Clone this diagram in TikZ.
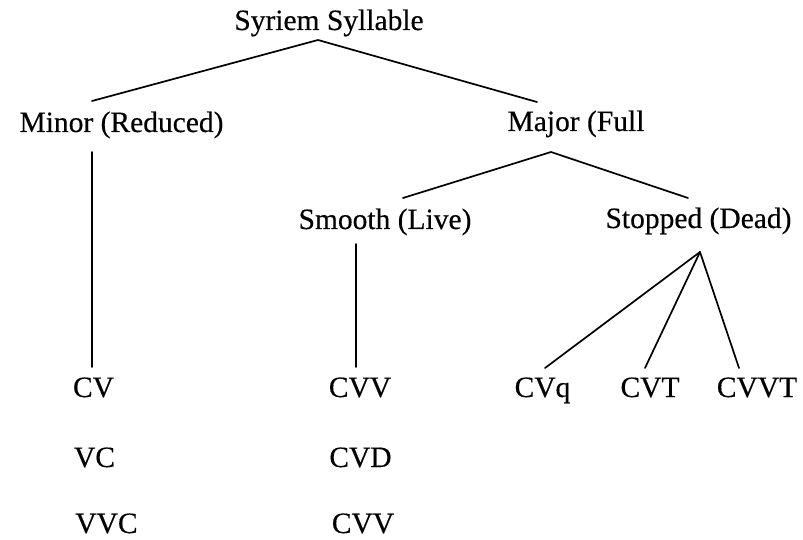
\documentclass[tikz,border=0pt]{standalone}
\usepackage{fontspec}
\setmainfont{Liberation Serif}
% label face, slightly heavier than the plain regular weight
\newfontfamily\labelface{Liberation Serif}[FakeBold=0.4]
\begin{document}
\begin{tikzpicture}[x=1pt,y=-1pt,
  label/.style={inner sep=0pt,outer sep=0pt,anchor=base,
    font=\labelface\fontsize{29.5}{32}\selectfont},
  branch/.style={line width=1.7pt,line cap=round}]
\useasboundingbox (0,0) rectangle (803,540);

% category labels
\node[label] (root)    at (329,30)    {Syriem Syllable};
\node[label] (minor)   at (121.5,132) {Minor (Reduced)};
\node[label] (major)   at (576,131)   {Major (Full};
\node[label] (smooth)  at (385,229)   {Smooth (Live)};
\node[label] (stopped) at (698.5,228) {Stopped (Dead)};

% syllable shapes
\node[label] (cv)    at (93.5,397)  {CV};
\node[label] (vc)    at (94.5,467)  {VC};
\node[label] (vvc)   at (106.5,533) {VVC};
\node[label] (cvv)   at (360,397)   {CVV};
\node[label] (cvd)   at (360.5,467) {CVD};
\node[label] (cvvb)  at (363,533)   {CVV};
\node[label] (cvq)   at (542.5,397) {CVq};
\node[label] (cvt)   at (650,397)   {CVT};
\node[label] (cvvt)  at (757,397)   {CVVT};

% branch end points
\coordinate (rootfoot)    at (318,40);
\coordinate (minorhead)   at (92,101);
\coordinate (majorhead)   at (537,102);
\coordinate (minorfoot)   at (92,152);
\coordinate (cvhead)      at (92,367);
\coordinate (majorfoot)   at (551,152);
\coordinate (smoothhead)  at (403,198);
\coordinate (stoppedhead) at (688,198);
\coordinate (smoothfoot)  at (356,244);
\coordinate (cvvhead)     at (356,367);
\coordinate (stoppedfoot) at (700,252);
\coordinate (cvqhead)     at (545,368);
\coordinate (cvthead)     at (645,368);
\coordinate (cvvthead)    at (739,368);

% tree branches
\draw[branch] (minorhead) -- (rootfoot) -- (majorhead);
\draw[branch] (minorfoot) -- (cvhead);
\draw[branch] (smoothhead) -- (majorfoot) -- (stoppedhead);
\draw[branch] (smoothfoot) -- (cvvhead);
\draw[branch] (stoppedfoot) -- (cvqhead);
\draw[branch] (stoppedfoot) -- (cvthead);
\draw[branch] (stoppedfoot) -- (cvvthead);
\end{tikzpicture}
\end{document}
